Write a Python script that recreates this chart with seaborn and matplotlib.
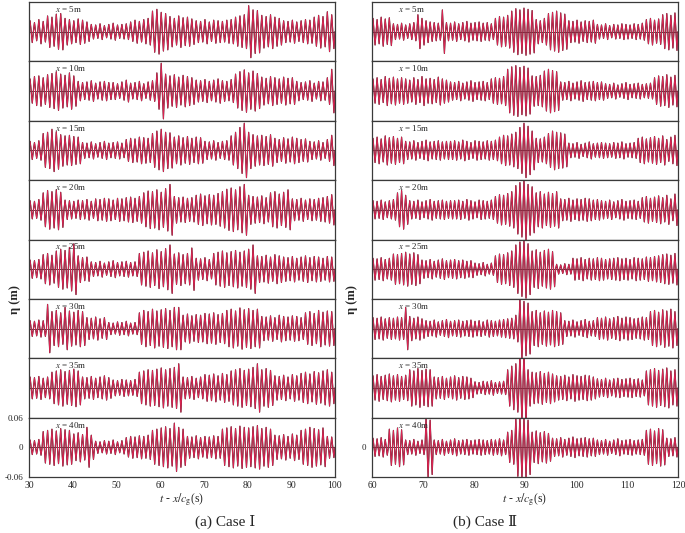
import numpy as np
import pandas as pd
import matplotlib
matplotlib.use('Agg')
import matplotlib.pyplot as plt
import seaborn as sns

# wave amplitudes, one value per wave, in counts of UNIT metres
UNIT = 0.00122
# Case I: waves of ~1.0 s from t = 30 s to 100 s
caseI_x5 = [18, 15, 20, 17, 26, 24, 29, 30, 22, 20, 18, 21, 19, 16, 12, 11, 13, 10, 12, 14, 11, 12, 13,
            16, 19, 17, 20, 22, 34, 37, 32, 30, 25, 22, 26, 23, 24, 21, 18, 17, 20, 16, 19, 18, 17, 19, 20,
            24, 26, 28, 43, 36, 35, 27, 25, 28, 24, 22, 18, 17, 19, 16, 18, 20, 19, 24, 27, 25, 33, 28]
caseI_x10 = [20, 24, 25, 22, 27, 29, 32, 28, 26, 30, 25, 16, 14, 15, 17, 13, 15, 16, 14, 14, 12, 15, 18,
             13, 14, 16, 12, 15, 17, 30, 46, 28, 25, 27, 23, 26, 24, 22, 18, 17, 19, 16, 18, 20, 17, 16, 19,
             28, 32, 35, 30, 33, 29, 23, 21, 24, 22, 20, 23, 21, 22, 16, 14, 15, 17, 13, 16, 15, 22, 36]
caseI_x15 = [15, 13, 16, 28, 30, 35, 31, 26, 24, 25, 23, 22, 13, 12, 14, 11, 13, 15, 12, 13, 14, 12, 18,
             20, 19, 22, 21, 20, 28, 32, 35, 30, 29, 22, 24, 21, 23, 20, 22, 21, 15, 14, 16, 13, 15, 16, 24,
             30, 38, 45, 30, 26, 24, 25, 23, 26, 20, 18, 21, 19, 22, 20, 18, 19, 15, 14, 16, 13, 18, 25]
caseI_x20 = [15, 14, 17, 28, 32, 30, 33, 29, 16, 15, 14, 16, 15, 17, 14, 18, 17, 19, 18, 16, 19, 18, 20,
             21, 19, 22, 28, 31, 30, 33, 29, 35, 42, 22, 20, 21, 19, 20, 24, 26, 23, 25, 24, 27, 30, 34, 36,
             33, 38, 42, 24, 22, 21, 23, 20, 28, 30, 26, 29, 33, 18, 17, 19, 16, 18, 17, 19, 20, 22, 25]
caseI_x25 = [15, 14, 16, 24, 26, 23, 30, 33, 31, 36, 42, 22, 19, 20, 12, 11, 13, 10, 12, 14, 11, 12, 13,
             11, 12, 26, 28, 30, 27, 32, 29, 34, 40, 25, 27, 24, 26, 35, 18, 17, 19, 16, 26, 28, 30, 27, 29,
             31, 28, 30, 33, 40, 22, 21, 23, 20, 24, 22, 20, 19, 21, 18, 20, 22, 19, 21, 20, 18, 21, 20]
caseI_x30 = [13, 12, 14, 13, 40, 28, 30, 26, 35, 29, 27, 30, 28, 18, 17, 19, 16, 18, 10, 9, 11, 10, 12,
             9, 10, 26, 30, 28, 32, 29, 31, 33, 30, 35, 35, 22, 24, 21, 23, 22, 25, 24, 26, 23, 25, 30, 32,
             29, 34, 31, 33, 30, 32, 20, 19, 21, 18, 22, 20, 19, 21, 20, 18, 26, 28, 25, 30, 27, 29, 28]
caseI_x35 = [18, 17, 19, 16, 18, 26, 28, 30, 27, 29, 31, 28, 18, 17, 19, 16, 18, 20, 17, 13, 12, 14, 13,
             12, 14, 26, 28, 30, 29, 31, 33, 30, 32, 34, 40, 18, 17, 19, 16, 18, 22, 21, 23, 20, 24, 22, 28,
             30, 32, 29, 31, 34, 40, 30, 32, 29, 20, 19, 21, 18, 22, 20, 24, 26, 23, 27, 25, 28, 30, 26]
caseI_x40 = [12, 11, 13, 26, 28, 30, 27, 31, 29, 28, 22, 24, 21, 33, 20, 10, 9, 11, 10, 12, 9, 11, 16,
             18, 17, 19, 18, 20, 28, 30, 32, 34, 31, 40, 33, 30, 18, 17, 19, 16, 18, 17, 19, 18, 30, 32, 34,
             31, 35, 33, 32, 34, 36, 31, 33, 30, 20, 19, 21, 18, 22, 20, 28, 30, 33, 31, 29, 32, 18, 17]

# Case II: waves of ~0.8 s from t = 60 s to 120 s
caseII_x5 = [22, 20, 24, 21, 23, 13, 12, 14, 11, 13, 15, 28, 22, 18, 16, 15, 14, 36, 15, 14, 16, 13, 15,
             17, 14, 15, 16, 14, 15, 13, 22, 25, 24, 27, 34, 38, 36, 39, 37, 35, 20, 18, 22, 30, 32, 34, 31,
             29, 18, 17, 19, 16, 18, 17, 19, 12, 11, 13, 10, 12, 11, 13, 12, 11, 13, 12, 14, 20, 22, 19, 21,
             28, 30, 27, 31]
caseII_x10 = [20, 22, 19, 24, 21, 23, 20, 22, 20, 18, 22, 19, 24, 20, 21, 19, 23, 20, 18, 15, 14, 16, 13,
              15, 17, 14, 15, 16, 14, 20, 22, 21, 24, 36, 40, 42, 39, 41, 38, 25, 24, 26, 33, 36, 34, 32,
              15, 14, 16, 13, 15, 17, 14, 15, 16, 14, 15, 12, 11, 13, 10, 12, 14, 11, 12, 13, 11, 12, 13,
              22, 25, 24, 27, 23, 26]
caseII_x15 = [20, 22, 19, 24, 21, 23, 20, 22, 15, 14, 16, 13, 15, 17, 14, 15, 16, 14, 15, 15, 16, 14, 17,
              15, 13, 16, 15, 14, 16, 15, 17, 22, 25, 24, 27, 30, 38, 45, 40, 32, 20, 19, 22, 28, 32, 30,
              29, 27, 12, 11, 13, 10, 12, 14, 11, 12, 13, 12, 11, 13, 12, 14, 11, 12, 13, 20, 22, 19, 21,
              23, 20, 24, 18, 22, 25]
caseII_x20 = [15, 14, 16, 13, 15, 17, 28, 32, 24, 15, 14, 16, 13, 15, 17, 14, 15, 16, 14, 15, 15, 16, 14,
              17, 15, 13, 16, 15, 14, 16, 22, 25, 24, 27, 30, 40, 45, 50, 42, 38, 28, 30, 26, 29, 27, 30,
              18, 17, 19, 16, 18, 17, 19, 18, 16, 17, 15, 14, 16, 13, 15, 17, 14, 15, 16, 14, 20, 22, 19,
              21, 23, 20, 24, 18, 26]
caseII_x25 = [18, 17, 19, 16, 18, 25, 24, 26, 28, 25, 27, 24, 15, 14, 16, 13, 15, 17, 14, 15, 16, 14, 15,
              13, 14, 10, 9, 11, 8, 10, 22, 25, 24, 27, 30, 40, 45, 48, 42, 30, 32, 28, 31, 33, 29, 8, 7,
              9, 8, 18, 17, 19, 16, 18, 17, 19, 18, 16, 17, 18, 19, 17, 18, 16, 19, 18, 17, 20, 19, 21, 22,
              24, 25, 23, 26]
caseII_x30 = [18, 17, 19, 16, 18, 17, 19, 18, 35, 20, 17, 19, 16, 13, 12, 14, 11, 13, 15, 12, 13, 14, 12,
              13, 14, 12, 13, 11, 14, 13, 12, 14, 15, 16, 17, 22, 50, 45, 42, 28, 30, 26, 29, 27, 30, 28,
              26, 13, 12, 14, 11, 13, 15, 12, 13, 18, 17, 19, 16, 18, 20, 17, 19, 18, 16, 17, 19, 18, 28,
              30, 27, 31, 29, 32, 28]
caseII_x35 = [20, 22, 19, 21, 23, 20, 22, 19, 21, 30, 28, 32, 29, 31, 30, 18, 17, 19, 16, 18, 20, 17, 19,
              18, 16, 10, 9, 11, 10, 12, 9, 10, 11, 30, 36, 40, 58, 62, 30, 26, 25, 27, 24, 26, 23, 20, 19,
              21, 18, 22, 20, 19, 21, 20, 18, 15, 14, 16, 13, 15, 16, 14, 15, 16, 14, 15, 13, 28, 30, 32,
              29, 31, 33, 28, 30]
caseII_x40 = [15, 14, 16, 13, 30, 28, 32, 29, 12, 11, 13, 10, 12, 50, 45, 12, 11, 13, 10, 12, 14, 11, 12,
              13, 11, 12, 13, 12, 11, 13, 12, 14, 12, 25, 28, 48, 52, 50, 45, 25, 27, 24, 26, 23, 15, 14,
              16, 13, 15, 17, 14, 15, 16, 14, 15, 12, 11, 13, 10, 12, 14, 11, 12, 13, 11, 12, 13, 28, 30,
              27, 31, 29, 15, 14, 16]

stations = [5, 10, 15, 20, 25, 30, 35, 40]
caseI = [caseI_x5, caseI_x10, caseI_x15, caseI_x20, caseI_x25, caseI_x30, caseI_x35, caseI_x40]
caseII = [caseII_x5, caseII_x10, caseII_x15, caseII_x20, caseII_x25, caseII_x30, caseII_x35, caseII_x40]


def wave_frame(amps, t0, period):
    rows = []
    for i, a in enumerate(amps):
        base = t0 + i * period
        for frac, sign in ((0, 0), (0.25, 1), (0.5, 0), (0.75, -1)):
            rows.append((base + frac * period, sign * a * UNIT))
    rows.append((t0 + len(amps) * period, 0.0))
    return pd.DataFrame(rows, columns=['t', 'eta'])


sns.set_style('white')
plt.rcParams['font.family'] = ['Liberation Serif', 'DejaVu Serif']
plt.rcParams['mathtext.fontset'] = 'stix'

RED = '#dc2452'
DARK = '#2b1c1c'

fig = plt.figure(figsize=(6.85, 5.33), dpi=100)
top, bottom = 1 - 2 / 533, 1 - 477 / 533
h = (top - bottom) / 8

columns = [
    (caseI, 29 / 685, 30, 100, 1.0, 36, '(a) Case Ⅰ'),
    (caseII, 372 / 685, 60, 120, 0.8, 65, '(b) Case Ⅱ'),
]

for col, (data, left, t0, t1, period, lab_x, caption) in enumerate(columns):
    for k, (st, amps) in enumerate(zip(stations, data)):
        ax = fig.add_axes([left, top - (k + 1) * h, 306 / 685, h])
        df = wave_frame(amps, t0, period)
        ax.axhline(0, color='#333333', lw=0.6, zorder=1)
        sns.lineplot(data=df, x='t', y='eta', ax=ax, color=DARK, lw=0.85, estimator=None, sort=False)
        sns.lineplot(data=df, x='t', y='eta', ax=ax, color=RED, lw=0.7, estimator=None, sort=False)
        ax.set_xlim(t0, t1)
        ax.set_ylim(-0.06, 0.06)
        ax.set_xlabel('')
        ax.set_ylabel('')
        for sp in ax.spines.values():
            sp.set_color('#3a3a3a')
            sp.set_linewidth(0.9)
        ax.text(lab_x, 0.046, f'$x$ = {st}m', fontsize=6.5, va='center', ha='left', zorder=5)
        if k < 7:
            ax.set_xticks([])
            ax.set_yticks([])
        else:
            ax.set_xticks(np.arange(t0, t1 + 1, 10))
            ax.tick_params(axis='x', direction='in', length=4, width=0.8, labelsize=7, pad=3)
            if col == 0:
                ax.set_yticks([-0.06, 0, 0.06])
                ax.set_yticklabels(['-0.06', '0', '0.06'])
            else:
                ax.set_yticks([0])
                ax.set_yticklabels(['0'])
            ax.tick_params(axis='y', direction='in', length=0, labelsize=6.5, pad=4)
            ax.set_xlabel(r'$t$ - $x/c_{\rm g}$(s)', fontsize=8.5, labelpad=1)
    fig.text(left - (14 if col == 0 else 20) / 685, 1 - 300 / 533, 'η (m)', rotation=90,
             fontsize=9, fontweight='bold', ha='center', va='center')
    fig.text(left + 153 / 685 + (43 if col == 0 else -40) / 685, 1 - 522 / 533, caption,
             fontsize=11, ha='center', va='center', family=['Liberation Serif', 'DejaVu Serif'])

fig.savefig('out.png', dpi=100)
